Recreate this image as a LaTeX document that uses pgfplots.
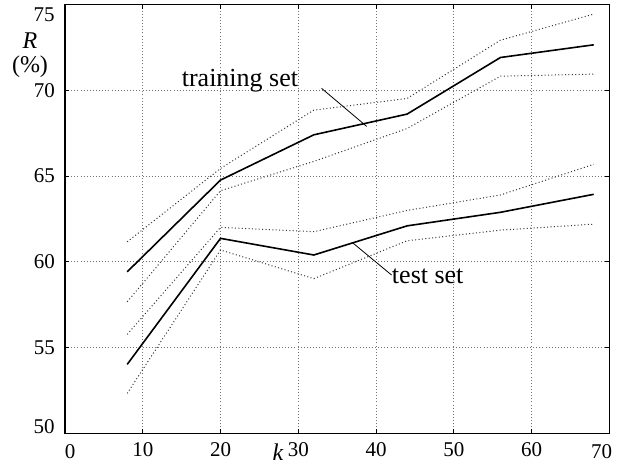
\documentclass[border=0pt]{standalone}
\usepackage{pgfplots}
\pgfplotsset{compat=1.18}
\usepackage{fontspec}
\setmainfont{Liberation Serif}
\begin{document}
\begin{tikzpicture}
\begin{axis}[
  name=ax,
  scale only axis,
  width=272.15pt, height=214.3pt,
  xmin=0, xmax=70, ymin=50, ymax=75,
  xtick={10,20,...,60}, ytick={55,60,...,70},
  extra x ticks={0,70}, extra x tick labels={},
  extra y ticks={50,75}, extra y tick labels={},
  extra x tick style={grid=none},
  extra y tick style={grid=none},
  grid=major,
  grid style={black!55, dash pattern=on 0.45pt off 1.1pt, line width=0.4pt},
  tick align=inside, major tick length=2pt,
  tick style={black, line width=0.4pt},
  axis line style={black, line width=0.6pt},
  /pgf/number format/assume math mode=true,
  ticklabel style={font=\fontsize{10.5}{12}\selectfont},
  xticklabel style={yshift=-1pt},
  yticklabel style={xshift=-1.5pt},
  clip=false,
]
\addplot[black, line width=0.8pt] coordinates {(8,59.42)(20,64.77)(32,67.41)(44,68.62)(56,71.92)(68,72.66)};
\addplot[black!80, line width=0.5pt, dash pattern=on 0.5pt off 1.2pt] coordinates {(8,61.17)(20,65.45)(32,68.85)(44,69.53)(56,72.93)(68,74.45)};
\addplot[black!80, line width=0.5pt, dash pattern=on 0.5pt off 1.2pt] coordinates {(8,57.67)(20,64.15)(32,65.86)(44,67.78)(56,70.83)(68,70.95)};
\addplot[black, line width=0.8pt] coordinates {(8,54.02)(20,61.37)(32,60.4)(44,62.1)(56,62.89)(68,63.94)};
\addplot[black!80, line width=0.5pt, dash pattern=on 0.5pt off 1.2pt] coordinates {(8,55.77)(20,62.01)(32,61.76)(44,63.0)(56,63.9)(68,65.69)};
\addplot[black!80, line width=0.5pt, dash pattern=on 0.5pt off 1.2pt] coordinates {(8,52.33)(20,60.69)(32,59.02)(44,61.23)(56,61.85)(68,62.2)};
% annotation leaders
\draw[black, line width=0.4pt] (axis cs:33.0,70.12) -- (axis cs:38.8,67.9);
\draw[black, line width=0.4pt] (axis cs:37.08,61.08) -- (axis cs:42.0,59.23);
\node[font=\fontsize{13}{15}\selectfont, inner sep=0pt] at (axis cs:22.5,70.55) {training set};
\node[font=\fontsize{13}{15}\selectfont, inner sep=0pt, anchor=west] at (axis cs:42.0,59.15) {test set};
% end tick labels shifted inward
\node[font=\fontsize{10.5}{12}\selectfont, anchor=east, inner sep=0pt] at ([xshift=-5pt,yshift=-5pt]axis cs:0,75) {75};
\node[font=\fontsize{10.5}{12}\selectfont, anchor=east, inner sep=0pt] at ([xshift=-5pt,yshift=3.3pt]axis cs:0,50) {50};
\node[font=\fontsize{10.5}{12}\selectfont, inner sep=0pt] at ([xshift=2.5pt,yshift=-9.2pt]axis cs:0,50) {0};
\node[font=\fontsize{10.5}{12}\selectfont, inner sep=0pt] at ([xshift=-3.8pt,yshift=-9.2pt]axis cs:70,50) {70};
% axis labels
\node[font=\fontsize{12}{14}\selectfont\itshape, inner sep=0pt] at ([xshift=-17.5pt]axis cs:0,72.93) {R};
\node[font=\fontsize{12}{14}\selectfont, inner sep=0pt] at ([xshift=-17.5pt]axis cs:0,71.36) {(\%)};
\node[font=\fontsize{12}{14}\selectfont\itshape, inner sep=0pt] at ([yshift=-9.6pt]axis cs:27.4,50) {k};
\end{axis}
\pgfresetboundingbox
\useasboundingbox ([shift={(-32.5pt,-15.35pt)}]ax.south west) rectangle ([shift={(6.85pt,2.35pt)}]ax.north east);
\end{tikzpicture}
\end{document}
